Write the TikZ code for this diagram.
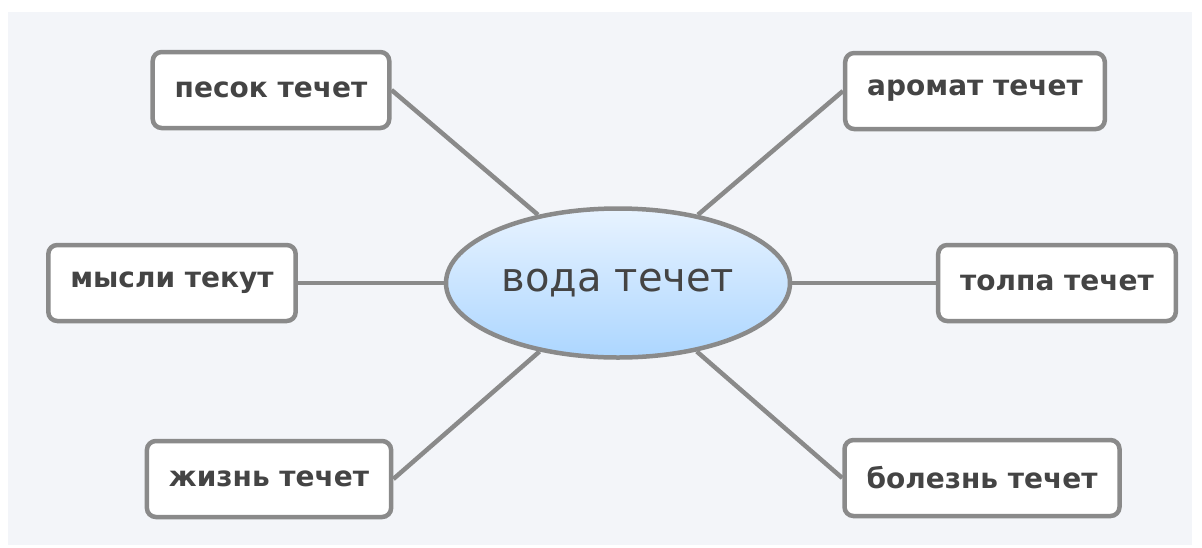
\documentclass[tikz,border=0pt]{standalone}
\usepackage{fontspec}
\setmainfont{DejaVu Sans}
\usetikzlibrary{%
    shapes.geometric,
    positioning
}
\definecolor{bgpaper}{HTML}{F3F5F9}
\definecolor{edgegray}{HTML}{8A8A8A}
\definecolor{inkgray}{HTML}{444444}
\definecolor{waterlight}{HTML}{E8F3FF}
\definecolor{waterdark}{HTML}{ACD6FF}
\tikzset{
    leaf/.style = {draw=edgegray, line width=4.5pt, fill=white, rounded corners=9pt,
                   minimum height=76pt, inner xsep=22pt, text=inkgray,
                   font=\fontsize{28}{30}\selectfont\bfseries},
    hub/.style  = {ellipse, draw=edgegray, line width=4.5pt, inner sep=0pt,
                   minimum width=344pt, minimum height=149pt,
                   top color=waterlight, bottom color=waterdark, text=inkgray,
                   font=\fontsize{40}{42}\selectfont},
    spoke/.style = {draw=edgegray, line width=4.5pt}
}

\begin{document}
\begin{tikzpicture}[x=1pt, y=-1pt]
    \useasboundingbox (0,0) rectangle (1202,547);
    \fill[bgpaper] (8,12) rectangle (1192,545);

    \node[hub] (voda) at (618,283) {вода течет};

    \node[leaf] (pesok)   at (271,90)  {песок течет};
    \node[leaf] (aromat)  at (975,91)  {аромат течет};
    \node[leaf] (mysli)   at (172,283) {мысли текут};
    \node[leaf] (tolpa)   at (1057,283) {толпа течет};
    \node[leaf] (zhizn)   at (269,479) {жизнь течет};
    \node[leaf] (bolezn)  at (982,478) {болезнь течет};

    \draw[spoke] (voda) -- (pesok.east);
    \draw[spoke] (voda) -- (aromat.west);
    \draw[spoke] (voda) -- (mysli.east);
    \draw[spoke] (voda) -- (tolpa.west);
    \draw[spoke] (voda) -- (zhizn.east);
    \draw[spoke] (voda) -- (bolezn.west);
\end{tikzpicture}
\end{document}
